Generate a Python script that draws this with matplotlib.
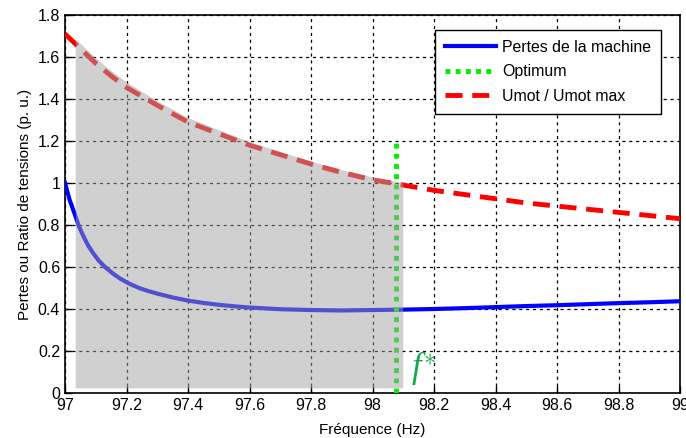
import matplotlib
matplotlib.use("Agg")
import matplotlib.pyplot as plt

plt.rcParams['font.family'] = ['Liberation Sans', 'DejaVu Sans']
plt.rcParams['mathtext.fontset'] = 'custom'
plt.rcParams['mathtext.it'] = 'Liberation Serif:italic'
plt.rcParams['mathtext.rm'] = 'Liberation Serif'

# Data
freq_pertes = [97.0, 97.015, 97.0325, 97.045, 97.06, 97.075, 97.092, 97.11, 97.13, 97.155,
               97.179, 97.21, 97.244, 97.27, 97.298, 97.35, 97.4, 97.45, 97.5, 97.55, 97.6,
               97.7, 97.8, 97.9, 98.0, 98.1, 98.2, 98.3, 98.4, 98.5, 98.6, 98.7, 98.8, 98.9, 99.0]
pertes = [1.0, 0.92, 0.848, 0.795, 0.746, 0.703, 0.665, 0.63, 0.60, 0.57,
          0.545, 0.52, 0.498, 0.486, 0.474, 0.455, 0.44, 0.429, 0.42, 0.413, 0.407,
          0.399, 0.395, 0.393, 0.395, 0.397, 0.400, 0.404, 0.409, 0.414, 0.418, 0.423, 0.428, 0.432, 0.437]

freq_u = [97.0, 97.05, 97.1, 97.15, 97.2, 97.3, 97.4, 97.5, 97.6, 97.7, 97.8, 97.9, 98.0,
          98.1, 98.2, 98.3, 98.4, 98.5, 98.6, 98.7, 98.8, 98.9, 99.0]
umot = [1.71, 1.64, 1.57, 1.51, 1.455, 1.37, 1.29, 1.235, 1.18, 1.135, 1.09, 1.05, 1.015,
        0.99, 0.965, 0.945, 0.925, 0.905, 0.89, 0.875, 0.86, 0.845, 0.83]

f_opt = 98.075
opt_top = 1.2

shade_x = [97.035, 97.1, 97.15, 97.2, 97.3, 97.4, 97.5, 97.6, 97.7, 97.8, 97.9, 98.0, 98.1]
shade_top = [1.685, 1.595, 1.535, 1.48, 1.39, 1.31, 1.252, 1.195, 1.148, 1.102, 1.062, 1.027, 1.0]
shade_bottom = 0.022

xticks = [97, 97.2, 97.4, 97.6, 97.8, 98, 98.2, 98.4, 98.6, 98.8, 99]
xticklabels = ['97', '97.2', '97.4', '97.6', '97.8', '98', '98.2', '98.4', '98.6', '98.8', '99']
yticks = [0, 0.2, 0.4, 0.6, 0.8, 1, 1.2, 1.4, 1.6, 1.8]
yticklabels = ['0', '0.2', '0.4', '0.6', '0.8', '1', '1.2', '1.4', '1.6', '1.8']

fig = plt.figure(figsize=(6.86, 4.38), dpi=100)
ax = fig.add_axes([65/686, 1 - 393/438, (680-65)/686, (393-15)/438])

ax.plot(freq_pertes, pertes, color='#0000ff', lw=3, label='Pertes de la machine', zorder=3,
        solid_joinstyle='round')
ax.plot([f_opt, f_opt], [0, opt_top], color='#00ee00', lw=3.5, ls=(0, (1, 1.1)),
        label='Optimum', zorder=3)
ax.plot(freq_u, umot, color='#ff0000', lw=3.5, ls=(0, (3.5, 2)),
        label='Umot / Umot max', zorder=3)

# translucent grey region drawn on top
poly_x = shade_x + [shade_x[-1], shade_x[0]]
poly_y = shade_top + [shade_bottom, shade_bottom]
ax.fill(poly_x, poly_y, color='#a3a3a3', alpha=0.5, lw=0, zorder=4)

ax.text(98.125, 0.075, r'$f^{\ast}$', color='#14a84a', fontsize=25, zorder=5)

ax.set_xlim(97, 99)
ax.set_ylim(0, 1.8)
ax.set_xticks(xticks)
ax.set_xticklabels(xticklabels)
ax.set_yticks(yticks)
ax.set_yticklabels(yticklabels)
ax.tick_params(direction='in', length=5, labelsize=11.5, width=1)
ax.grid(True, color='black', ls=(0, (2.5, 3)), lw=0.9)
for s in ax.spines.values():
    s.set_linewidth(1.2)

ax.set_xlabel('Fréquence (Hz)', fontsize=11, labelpad=7)
ax.set_ylabel('Pertes ou Ratio de tensions (p. u.)', fontsize=11)

leg = ax.legend(loc='upper right', bbox_to_anchor=(0.969, 0.960), borderaxespad=0,
                fontsize=11.4, fancybox=False, framealpha=1, edgecolor='black',
                handlelength=3.2, borderpad=0.62, labelspacing=0.6, handletextpad=0.4)
leg.get_frame().set_linewidth(1.0)

fig.savefig('out.png', dpi=100)
